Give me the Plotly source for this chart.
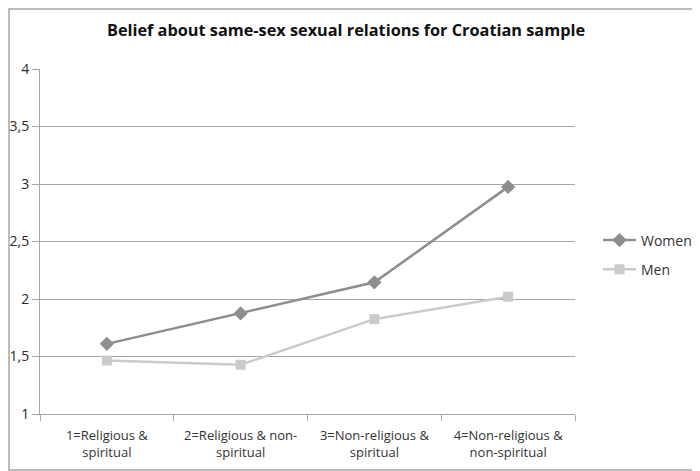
import plotly.graph_objects as go

categories = ["1=Religious &<br>spiritual", "2=Religious & non-<br>spiritual",
              "3=Non-religious &<br>spiritual", "4=Non-religious &<br>non-spiritual"]
women = [1.61, 1.875, 2.145, 2.975]
men = [1.465, 1.428, 1.825, 2.02]
y_ticks = [1, 1.5, 2, 2.5, 3, 3.5, 4]

# the page body adds an 8px offset, so the figure is sized to fill the rest
OFF = 8
W, H = 700 - OFF, 471 - OFF
ml, mr, mt, mb = 40 - OFF, 125, 69 - OFF, 57
pw, ph = W - ml - mr, H - mt - mb

fig = go.Figure()
fig.add_trace(go.Scatter(x=categories, y=women, name="Women", mode="lines+markers",
                         legendgroup="w",
                         line=dict(color="#8e8e8e", width=2.5),
                         marker=dict(symbol="diamond", size=11, color="#8e8e8e")))
fig.add_trace(go.Scatter(x=categories, y=men, name="Men", mode="lines+markers",
                         legendgroup="m",
                         line=dict(color="#cacaca", width=2.5),
                         marker=dict(symbol="square", size=10, color="#cacaca")))

fig.update_layout(
    template="none",
    width=W, height=H,
    margin=dict(l=ml, r=mr, t=mt, b=mb, pad=0, autoexpand=False),
    paper_bgcolor="white", plot_bgcolor="white",
    separators=", ",
    font=dict(family="Open Sans", size=13, color="#333333"),
    title=dict(text="<b>Belief about same-sex sexual relations for Croatian sample</b>",
               x=(346 - OFF) / W, xref="container", xanchor="center",
               y=1 - (30 - OFF) / H, yanchor="middle",
               font=dict(family="Open Sans", size=16.3, color="#111111")),
    xaxis=dict(type="category", range=[-0.5, 3.5], showgrid=False, automargin=False,
               showline=True, linecolor="#a6a6a6", linewidth=1,
               ticks="outside", tickson="boundaries", ticklen=6, tickcolor="#a6a6a6",
               ticklabelstandoff=9, tickangle=0,
               tickfont=dict(size=13, color="#333333")),
    yaxis=dict(range=[1, 4], tickvals=y_ticks, tickformat=".1~f", automargin=False,
               showgrid=True, gridcolor="#a6a6a6", gridwidth=1,
               showline=True, linecolor="#a6a6a6", linewidth=1,
               ticks="outside", ticklen=7, tickcolor="#a6a6a6",
               tickfont=dict(size=14, color="#2a2a2a"), zeroline=False),
    legend=dict(x=(598 - 40) / pw, xanchor="left", y=(414 - 255) / ph, yanchor="middle",
                font=dict(size=14, color="#333333"), bgcolor="rgba(0,0,0,0)",
                itemwidth=33, tracegroupgap=8, entrywidth=90),
    showlegend=True,
)

fig.add_shape(type="rect", xref="paper", yref="paper",
              x0=(1 - ml) / pw, x1=(W - 1 - ml) / pw,
              y0=-(mb - 1) / ph, y1=(ph + mt - 1) / ph,
              line=dict(color="#a6a6a6", width=1.5), layer="below")

fig.write_html("out.html")
